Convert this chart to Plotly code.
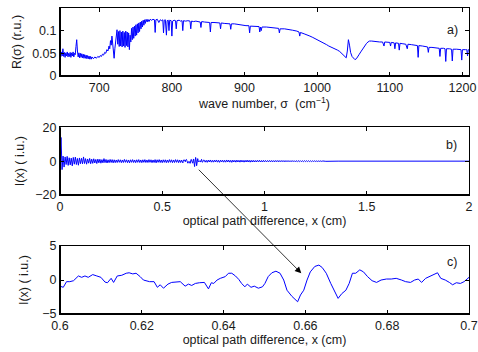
import plotly.graph_objects as go

# ---------------- Panel a: spectrum R(sigma) ----------------
SIGMA = [646, 647, 648, 649, 650, 651, 652, 653, 654, 655, 656, 657, 658, 659, 660, 661, 662, 663, 664, 665,
         666, 667, 668, 669, 670, 671, 672, 673, 674, 675, 676, 677, 678, 679, 680, 681, 682, 683, 684, 685,
         686, 687, 688, 689, 690, 692, 694, 696, 698, 700,
         701.5, 703, 704.5, 706, 707.5, 709, 710.5, 712, 713.5, 714.5, 715.5, 716.5, 717.5, 718.5, 719.5, 720.5,
         721.5, 722.5, 723.5, 724.5, 725.5, 726.5, 727.5, 728.5, 729.5, 730.5, 731.5, 732.5, 733.5, 734.5, 735.5,
         736.5, 737.5, 738.5, 739.5, 740.5, 741.5, 742.5, 743.5, 744.5, 745.5, 746.5, 747.5, 748.5, 749.5, 750.5,
         751.5, 752.5, 753.5, 754.5, 755.5, 756.5, 757.5, 758.5, 759.5, 760.5, 761.5, 762.5, 763.5, 764.5, 766,
         767, 768.5, 770, 772, 774, 776, 777, 778, 780, 782, 784, 786, 787.5, 788.5, 789.5, 791, 792.5, 793.5,
         795, 796, 797, 799, 800, 801, 803, 805, 806, 807, 810, 812, 814, 815, 816, 819, 822, 825, 826, 827,
         830, 833, 836, 839, 840, 841, 845, 848, 852, 853, 854, 858, 862, 866, 867, 868, 872, 876, 880, 881,
         882, 886, 890, 894, 898, 902, 906, 907, 908, 912, 916, 920, 921, 922, 923, 924, 930, 936, 942, 947,
         948, 949, 955, 960, 966, 972, 975, 976, 977, 982, 986, 990, 994, 998, 1002, 1006, 1010, 1013, 1016,
         1019, 1022, 1025, 1028, 1031, 1034, 1036, 1038, 1040, 1041.5, 1043, 1044.5, 1046, 1048, 1050, 1052,
         1054, 1056, 1058, 1060, 1062, 1064, 1066, 1068, 1070, 1072, 1075, 1078, 1082, 1086, 1090, 1092, 1093,
         1097, 1100, 1101, 1102, 1106, 1107, 1108, 1112, 1113, 1114, 1118, 1122, 1124, 1125, 1130, 1135, 1138,
         1139, 1140, 1145, 1150, 1152, 1153, 1154, 1158, 1162, 1166, 1168, 1169, 1170, 1174, 1176, 1177, 1178,
         1182, 1185, 1186, 1187, 1192, 1196, 1198, 1199, 1200, 1204, 1206, 1207, 1208, 1210]
R_SIGMA = [0.050, 0.042, 0.053, 0.044, 0.060, 0.043, 0.052, 0.041, 0.051, 0.044, 0.053, 0.042, 0.050, 0.043,
           0.052, 0.041, 0.051, 0.044, 0.053, 0.042, 0.050, 0.047, 0.065, 0.080, 0.055, 0.042, 0.051, 0.040,
           0.050, 0.041, 0.049, 0.040, 0.048, 0.039, 0.047, 0.039, 0.046, 0.038, 0.045, 0.038, 0.044, 0.037,
           0.043, 0.037, 0.042, 0.038, 0.042, 0.039, 0.043, 0.041,
           0.045, 0.043, 0.048, 0.046, 0.052, 0.050, 0.058, 0.055, 0.066, 0.060, 0.078, 0.068, 0.088, 0.070,
           0.055, 0.039, 0.060, 0.075, 0.095, 0.102, 0.070, 0.098, 0.065, 0.100, 0.066, 0.097, 0.064, 0.099,
           0.066, 0.096, 0.063, 0.099, 0.067, 0.097, 0.064, 0.095, 0.058, 0.090, 0.075, 0.105, 0.080, 0.108,
           0.083, 0.110, 0.088, 0.113, 0.090, 0.115, 0.095, 0.117, 0.098, 0.119, 0.104, 0.121, 0.108, 0.123,
           0.112, 0.124, 0.116, 0.125, 0.119, 0.125, 0.120, 0.125, 0.123, 0.125, 0.124, 0.096, 0.124, 0.125,
           0.118, 0.124, 0.122, 0.124, 0.095, 0.123, 0.124, 0.090, 0.122, 0.123, 0.100, 0.123, 0.122, 0.088,
           0.121, 0.123, 0.122, 0.104, 0.122, 0.123, 0.121, 0.122, 0.100, 0.122, 0.121, 0.122, 0.121, 0.104,
           0.121, 0.120, 0.121, 0.120, 0.119, 0.107, 0.120, 0.119, 0.119, 0.118, 0.097, 0.118, 0.118, 0.117,
           0.117, 0.104, 0.117, 0.116, 0.116, 0.115, 0.103, 0.115, 0.115, 0.114, 0.112, 0.112, 0.111, 0.111,
           0.095, 0.110, 0.110, 0.110, 0.109, 0.097, 0.108, 0.100, 0.108, 0.108, 0.107, 0.106, 0.105, 0.095,
           0.104, 0.104, 0.102, 0.101, 0.099, 0.097, 0.088, 0.096, 0.093, 0.091, 0.088, 0.085, 0.082, 0.079,
           0.075, 0.072, 0.069, 0.066, 0.064, 0.062, 0.059, 0.057, 0.054, 0.050, 0.047, 0.043, 0.040, 0.055,
           0.080, 0.068, 0.052, 0.043, 0.038, 0.036, 0.038, 0.042, 0.048, 0.053, 0.058, 0.062, 0.067, 0.072,
           0.075, 0.077, 0.077, 0.076, 0.076, 0.075, 0.075, 0.066, 0.075, 0.074, 0.074, 0.066, 0.074, 0.073,
           0.060, 0.073, 0.072, 0.057, 0.072, 0.071, 0.070, 0.060, 0.070, 0.069, 0.068, 0.067, 0.041, 0.067,
           0.066, 0.065, 0.064, 0.052, 0.063, 0.063, 0.062, 0.062, 0.061, 0.043, 0.061, 0.061, 0.060, 0.032,
           0.060, 0.060, 0.059, 0.033, 0.059, 0.059, 0.058, 0.058, 0.035, 0.058, 0.058, 0.058, 0.044, 0.058,
           0.057]

# ---------------- Panel c: zoomed interferogram ----------------
XC = [0.6000, 0.6008, 0.6016, 0.6024, 0.6033, 0.6045, 0.6053, 0.6061, 0.6069, 0.6080, 0.6090, 0.6100,
      0.6110, 0.6116, 0.6125, 0.6131, 0.6140, 0.6151, 0.6162, 0.6169, 0.6178, 0.6186, 0.6196, 0.6204,
      0.6219, 0.6230, 0.6238, 0.6245, 0.6253, 0.6264, 0.6273, 0.6284, 0.6294, 0.6306, 0.6314, 0.6322,
      0.6331, 0.6341, 0.6353, 0.6363, 0.6370, 0.6376, 0.6384, 0.6392, 0.6404, 0.6412, 0.6420, 0.6429,
      0.6437, 0.6444, 0.6452, 0.6458, 0.6467, 0.6475, 0.6485, 0.6495, 0.6501, 0.6509, 0.6518, 0.6528,
      0.6538, 0.6547, 0.6555, 0.6567, 0.6575, 0.6581, 0.6588, 0.6596, 0.6604, 0.6612, 0.6623, 0.6633,
      0.6641, 0.6651, 0.6662, 0.6672, 0.6680, 0.6689, 0.6699, 0.6707, 0.6715, 0.6723, 0.6733, 0.6742,
      0.6752, 0.6763, 0.6774, 0.6785, 0.6798, 0.6810, 0.6822, 0.6835, 0.6845, 0.6857, 0.6867, 0.6876,
      0.6884, 0.6894, 0.6906, 0.6917, 0.6923, 0.6931, 0.6942, 0.6952, 0.6960, 0.6969, 0.6979, 0.6988,
      0.6997, 0.7002]
IC = [-0.9, -1.07, -0.24, -0.24, -0.1, 0.6, 0.4, 0.6, 0.4, 0.8, 0.6, 0.4,
      -0.3, -0.4, 0.25, -0.35, 0.6, 0.7, 1.0, 1.07, 0.9, 1.0, 0.5, 0.0,
      -0.24, -0.24, -1.07, -0.7, -1.2, -0.6, -0.35, -0.35, -0.24, -0.9, -0.6, -0.8,
      -0.5, -0.4, -0.35, -1.3, -0.4, -0.5, 0.0, 0.25, 0.5, 1.0, 1.0, 0.6,
      0.1, -0.5, -1.0, -0.6, -1.07, -0.9, -1.2, -1.0, -0.5, 0.5, 1.07, 1.3,
      1.0, 0.0, -1.5, -2.4, -2.9, -3.2, -2.2, -1.5, 0.0, 1.2, 2.0, 2.2,
      1.85, 1.0, -0.5, -1.7, -2.7, -2.0, -1.5, -0.5, 1.0, 1.0, 1.5, 1.2,
      0.5, -0.1, -0.35, 0.0, 0.15, 0.15, 0.25, 0.0, -0.24, -0.35, 0.0, 0.15,
      -0.35, 0.25, 0.6, 1.0, 1.07, 0.25, 0.0, -0.35, -0.7, -0.4, -0.5, -0.24,
      0.25, 0.5]

# ---------------- Panel b: full interferogram ----------------
B_LEFT_START, B_STEP = 0.0, 0.005
IB_LEFT = [2, 14, -5, 3, -3.5, 2.5, -2, 2.8, -2.5, 2, -2.2, 1.8, -2.8, 2.2, -1.8, 2.4, -2, 1.6, -2.4, 1.9,
           -1.5, 1.7, -1.6, 2.5, -1.4, 1.5, -1.8, 1.3, -1.2, 1.6, -1.5, 1.2, -1.3, 1.4, -1.1, 1.0, -1.4, 1.2,
           -1.0, 1.1, -1.2, 0.9, -1.0, 1.5, -0.9, 1.0, -1.1, 0.8, -0.9, 1.0, -0.8, 0.9, -1.0, 0.8, -0.9, 0.7,
           -0.8, 0.9, -0.7, 0.8, -0.9, 0.7, -0.8, 1.0, -0.7, 0.8, -0.9, 0.7, -1.0, 0.8, -0.7, 0.9, -0.8, 0.7,
           -0.9, 0.8, -0.7, 0.9, -0.8, 0.7, -0.9, 0.8, -0.7, 0.9, -0.8, 0.7, -0.8, 0.9, -0.7, 0.8, -0.9, 0.7,
           -0.8, 0.9, -1.0, 0.8, -0.7, 0.9, -0.8, 0.7, -0.9, 0.8, -0.7, 0.8, -0.9, 0.7, -0.8, 0.9, -0.7, 0.8,
           -0.9, 0.7, -0.8, 0.9, -0.7, 0.8, -0.9, 0.7, -0.8, 0.6]
B_RIGHT_START = 0.705
IB_RIGHT = [0.6, -0.6, 0.5, -0.7, 0.6, -0.5, 0.7, -0.6, 0.5, -0.6, 0.6, -0.5, 0.7, -0.6, 0.5, -0.7, 0.6, -0.5,
            0.6, -0.6, 0.5, -0.6, 0.7, -0.5, 0.6, -0.6, 0.5, -0.7, 0.6, -0.5, 0.5, -0.6, 0.6, -0.5, 0.5, -0.6,
            0.6, -0.5, 0.5, -0.6, 0.5, -0.5, 0.6, -0.5, 0.5, -0.6, 0.5, -0.5, 0.5, -0.5, 0.4, -0.5, 0.5, -0.4,
            0.5, -0.5, 0.4, -0.5, 0.5, -0.4,
            0.4, -0.4, 0.4, -0.4, 0.4, -0.4, 0.4, -0.4, 0.35, -0.4, 0.4, -0.35, 0.4, -0.4, 0.35, -0.35, 0.4,
            -0.35, 0.35, -0.4, 0.35, -0.35, 0.35, -0.35, 0.3, -0.35, 0.35, -0.3, 0.3, -0.35, 0.3, -0.3, 0.3,
            -0.3, 0.3, -0.3, 0.25, -0.3, 0.3, -0.25, 0.25, -0.25, 0.25, -0.25, 0.2, -0.25, 0.2, -0.2, 0.2,
            -0.2, 0.15, -0.2, 0.15, -0.15, 0.15, -0.15, 0.1, -0.1, 0.1, -0.1]
B_TAIL_X = [1.36, 2.0]
B_TAIL_I = [0.0, 0.0]

XB = ([round(B_LEFT_START + i * B_STEP, 4) for i in range(len(IB_LEFT))] + XC +
      [round(B_RIGHT_START + i * B_STEP, 4) for i in range(len(IB_RIGHT))] + B_TAIL_X)
IB = IB_LEFT + IC + IB_RIGHT + B_TAIL_I

BLUE = "#0000ff"
FONT = dict(family="Liberation Sans, Arial, sans-serif", size=12.5, color="#1a1a1a")

fig = go.Figure()
fig.add_trace(go.Scatter(x=SIGMA, y=R_SIGMA, mode="lines", line=dict(color=BLUE, width=1),
                         xaxis="x", yaxis="y", showlegend=False, hoverinfo="skip"))
fig.add_trace(go.Scatter(x=XB, y=IB, mode="lines", line=dict(color=BLUE, width=1),
                         xaxis="x2", yaxis="y2", showlegend=False, hoverinfo="skip"))
fig.add_trace(go.Scatter(x=XC, y=IC, mode="lines", line=dict(color=BLUE, width=1),
                         xaxis="x3", yaxis="y3", showlegend=False, hoverinfo="skip"))

common = dict(showline=True, linecolor="black", linewidth=1, mirror="ticks", ticks="inside",
              ticklen=4, tickcolor="black", showgrid=False, zeroline=False, tickfont=FONT,
              automargin=False, ticklabeloverflow="allow")

fig.update_layout(
    width=478, height=352,
    margin=dict(l=60, r=9, t=8, b=38),
    paper_bgcolor="white", plot_bgcolor="white",
    font=FONT,
    xaxis=dict(domain=[0, 1], anchor="y", range=[646, 1209], tickvals=[700, 800, 900, 1000, 1100, 1200],
               title=dict(text="wave number, σ  (cm<sup>−1</sup>)", font=FONT, standoff=0), **common),
    yaxis=dict(domain=[0.778, 1.0], anchor="x", range=[0, 0.15], tickvals=[0, 0.05, 0.1],
               ticktext=["0", "0.05", "0.1"],
               title=dict(text="R(σ) (r.u.)", font=FONT, standoff=7), **common),
    xaxis2=dict(domain=[0, 1], anchor="y2", range=[0, 2], tickvals=[0, 0.5, 1, 1.5, 2],
                ticktext=["0", "0.5", "1", "1.5", "2"],
                title=dict(text="optical path difference, x (cm)", font=FONT, standoff=1), **common),
    yaxis2=dict(domain=[0.389, 0.610], anchor="x2", range=[-20, 20], tickvals=[-20, 0, 20],
                title=dict(text="I(x) ( i.u.)", font=FONT, standoff=7), **common),
    xaxis3=dict(domain=[0, 1], anchor="y3", range=[0.6, 0.7], tickvals=[0.6, 0.62, 0.64, 0.66, 0.68, 0.7],
                ticktext=["0.6", "0.62", "0.64", "0.66", "0.68", "0.7"],
                title=dict(text="optical path difference, x (cm)", font=FONT, standoff=1), **common),
    yaxis3=dict(domain=[0.0, 0.222], anchor="x3", range=[-5, 5], tickvals=[-5, 0, 5],
                title=dict(text="I(x) ( i.u.)", font=FONT, standoff=10), **common),
)

# thicker left/bottom frame edges
for xa, ya in [("x", "y"), ("x2", "y2"), ("x3", "y3")]:
    fig.add_shape(type="line", xref=f"{xa} domain", yref=f"{ya} domain", x0=0, x1=0, y0=0, y1=1,
                  line=dict(color="black", width=2))
    fig.add_shape(type="line", xref=f"{xa} domain", yref=f"{ya} domain", x0=0, x1=1, y0=0, y1=0,
                  line=dict(color="black", width=2))

# panel labels
fig.add_annotation(x=1186.6, y=0.102, xref="x", yref="y", text="a)", showarrow=False, font=FONT)
fig.add_annotation(x=1.915, y=9.5, xref="x2", yref="y2", text="b)", showarrow=False, font=FONT)
fig.add_annotation(x=0.6958, y=2.66, xref="x3", yref="y3", text="c)", showarrow=False, font=FONT)

# arrow from panel b to panel c
fig.add_annotation(x=0.659, y=1.0, xref="x3", yref="y3", ax=-104, ay=-105, axref="pixel", ayref="pixel",
                   text="", showarrow=True, arrowhead=2, arrowsize=1.6, arrowwidth=0.8,
                   arrowcolor="black", standoff=0)

# remove the default page margin so the figure fills the 478x352 window exactly
fig.write_html("out.html", config={"displayModeBar": False},
               post_script="document.body.style.margin='0';document.body.style.overflow='hidden';")
